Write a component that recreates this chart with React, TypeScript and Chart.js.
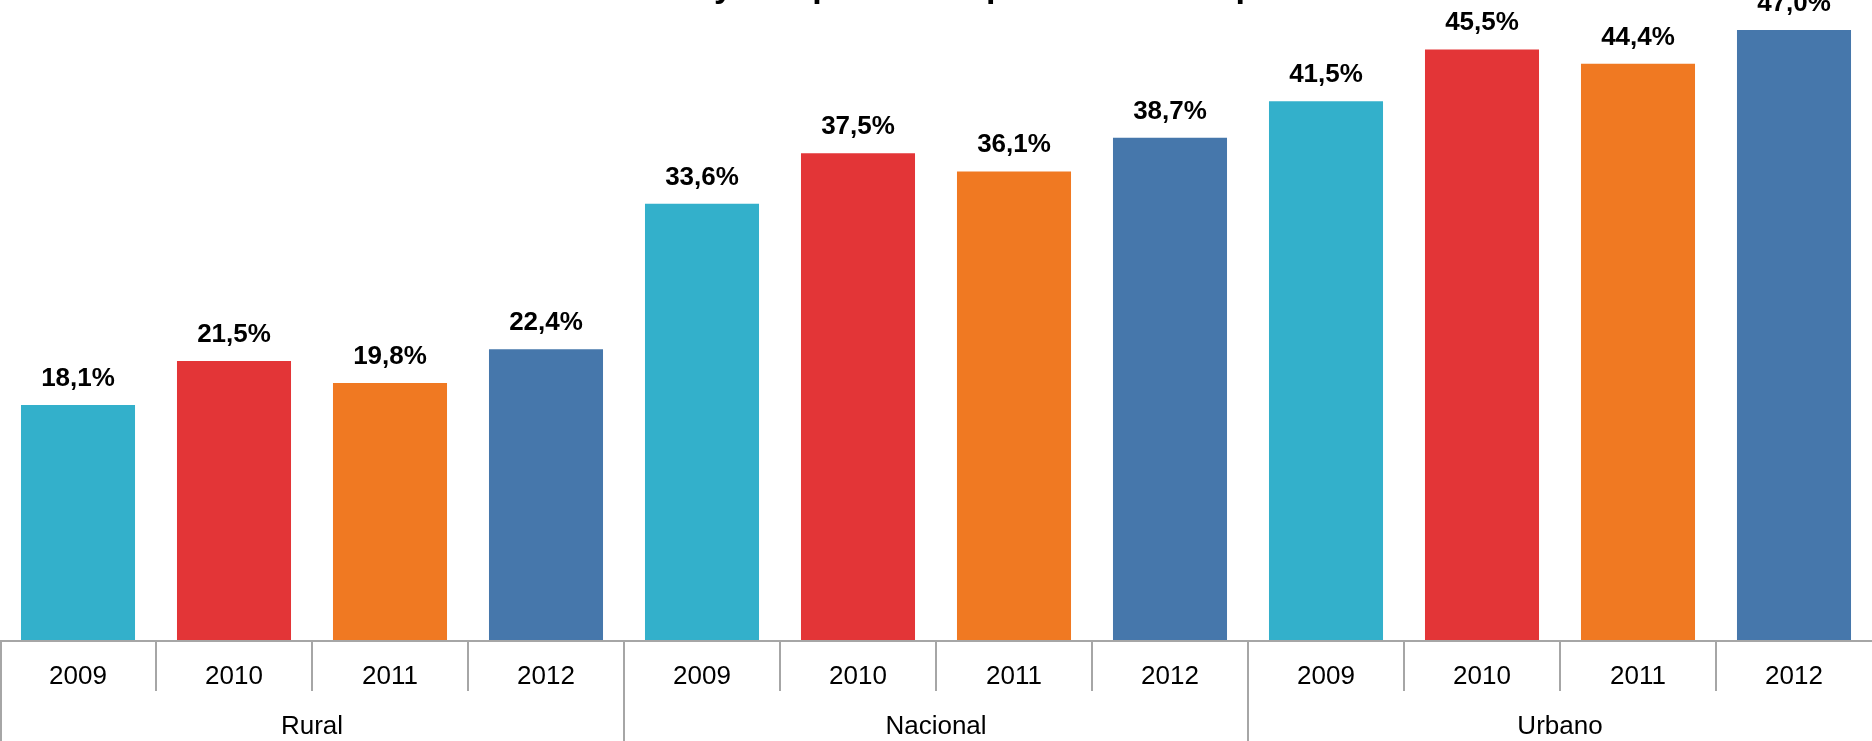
import React, { useEffect, useRef } from "react";
import { Chart, registerables } from "chart.js";

Chart.register(...registerables);

const years = ["2009", "2010", "2011", "2012"];
const groups = ["Rural", "Nacional", "Urbano"];
const rural = [18.1, 21.5, 19.8, 22.4];
const nacional = [33.6, 37.5, 36.1, 38.7];
const urbano = [41.5, 45.5, 44.4, 47.0];
const yearColors = ["#33B0CB", "#E33537", "#F07922", "#4677AB"];
const titlePrefix = "Tenencia de Internet ";
const titleRest = "y computadoras por áreas de la población";

const FONT = '"Liberation Sans", Arial, Helvetica, sans-serif';
const W = 1872;
const H_VIEW = 741;
const OFFSET = 60;
const H = H_VIEW + OFFSET;
const AXIS_Y = 700; // canvas coords (bars bottom)

const groupSeries = [rural, nacional, urbano];

export default function App() {
  const ref = useRef<HTMLCanvasElement | null>(null);

  useEffect(() => {
    const canvas = ref.current;
    if (!canvas) return;
    const values = groupSeries.flat();
    const labels = groups.flatMap((g) => years.map((y) => `${y} ${g}`));
    const colors = groups.flatMap(() => yearColors);

    const titlePlugin = {
      id: "topTitle",
      afterDraw(chart: any) {
        const ctx = chart.ctx;
        ctx.save();
        ctx.font = `bold 34px ${FONT}`;
        ctx.fillStyle = "#000";
        ctx.textAlign = "left";
        ctx.textBaseline = "alphabetic";
        const pw = ctx.measureText(titlePrefix).width;
        const x = 714 - pw;
        ctx.fillText(titlePrefix + titleRest, x, OFFSET - 3);
        ctx.restore();
      },
    };

    const valueLabels = {
      id: "valueLabels",
      afterDatasetsDraw(chart: any) {
        const ctx = chart.ctx;
        const meta = chart.getDatasetMeta(0);
        ctx.save();
        ctx.font = `bold 26px ${FONT}`;
        ctx.fillStyle = "#000";
        ctx.textAlign = "center";
        ctx.textBaseline = "alphabetic";
        meta.data.forEach((bar: any, i: number) => {
          const v = values[i];
          const txt = v.toFixed(1).replace(".", ",") + "%";
          ctx.fillText(txt, bar.x, bar.y - 19);
        });
        ctx.restore();
      },
    };

    const groupAxis = {
      id: "groupAxis",
      afterDraw(chart: any) {
        const ctx = chart.ctx;
        const xs = chart.scales.x;
        const n = values.length;
        const half = (xs.getPixelForValue(1) - xs.getPixelForValue(0)) / 2;
        const ay = AXIS_Y + 1;
        ctx.save();
        ctx.strokeStyle = "#A6A6A6";
        ctx.lineWidth = 2;
        ctx.beginPath();
        ctx.moveTo(0, ay);
        ctx.lineTo(W, ay);
        ctx.stroke();
        for (let i = 0; i < n; i++) {
          const bx = Math.round(xs.getPixelForValue(i) - half);
          const isGroup = i % years.length === 0;
          const x = i === 0 ? 1 : bx;
          ctx.beginPath();
          ctx.moveTo(x, ay);
          ctx.lineTo(x, isGroup ? H : ay + 50);
          ctx.stroke();
        }
        ctx.fillStyle = "#000";
        ctx.font = `26px ${FONT}`;
        ctx.textAlign = "center";
        ctx.textBaseline = "alphabetic";
        for (let i = 0; i < n; i++) {
          ctx.fillText(years[i % years.length], xs.getPixelForValue(i), OFFSET + 684);
        }
        groups.forEach((g, gi) => {
          const first = xs.getPixelForValue(gi * years.length) - half;
          const last = xs.getPixelForValue(gi * years.length + years.length - 1) + half;
          ctx.fillText(g, (first + last) / 2, OFFSET + 734);
        });
        ctx.restore();
      },
    };

    const chart = new Chart(canvas, {
      type: "bar",
      data: {
        labels,
        datasets: [
          {
            data: values,
            backgroundColor: colors,
            borderWidth: 0,
            barPercentage: 0.731,
            categoryPercentage: 1,
          },
        ],
      },
      options: {
        responsive: false,
        animation: false,
        devicePixelRatio: 1,
        layout: { padding: { top: AXIS_Y - 50 * 12.98, bottom: H - AXIS_Y, left: 0, right: 0 } },
        plugins: {
          legend: { display: false },
          tooltip: { enabled: false },
          title: { display: false },
        },
        scales: {
          x: { display: false, offset: true, grid: { display: false } },
          y: { display: false, min: 0, max: 50, grid: { display: false } },
        },
      },
      plugins: [titlePlugin, valueLabels, groupAxis],
    });
    return () => chart.destroy();
  }, []);

  return (
    <div
      style={{
        position: "fixed",
        left: 0,
        top: 0,
        width: W,
        height: H_VIEW,
        overflow: "hidden",
        background: "#fff",
      }}
    >
      <canvas
        ref={ref}
        width={W}
        height={H}
        style={{ position: "absolute", left: 0, top: -OFFSET, width: W, height: H }}
      />
    </div>
  );
}
